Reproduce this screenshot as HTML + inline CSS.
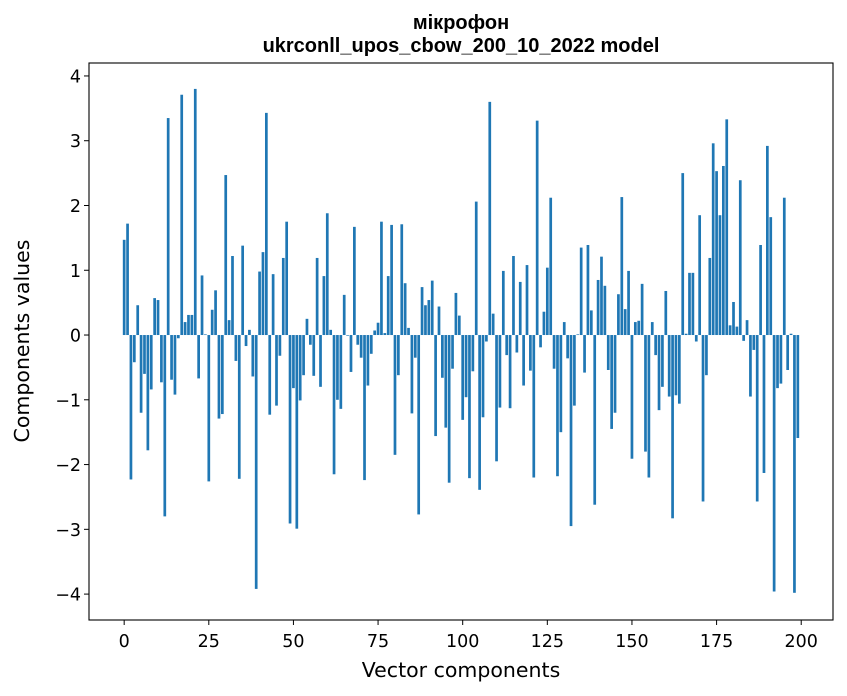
<!DOCTYPE html>
<html><head><meta charset="utf-8"><style>
html,body{margin:0;padding:0;background:#fff;}
svg{display:block;font-family:"DejaVu Sans","Liberation Sans",sans-serif;}
</style></head><body>
<svg id="chart" width="847" height="696" xmlns="http://www.w3.org/2000/svg">
<rect width="847" height="696" fill="#fff"/>
<text x="461" y="29" text-anchor="middle" font-size="20" font-weight="bold" font-family="Liberation Sans, sans-serif">мікрофон</text>
<text x="461" y="52" text-anchor="middle" font-size="20" font-weight="bold" font-family="Liberation Sans, sans-serif">ukrconll_upos_cbow_200_10_2022 model</text>
<g id="bars"></g>
<g id="xticks"></g>
<g id="yticks"></g>
<rect x="89" y="63" width="744" height="557" fill="none" stroke="#000" stroke-width="1.1"/>
<text x="461" y="677" text-anchor="middle" font-size="20.5">Vector components</text>
<text transform="translate(29,341) rotate(-90)" text-anchor="middle" font-size="20.5">Components values</text>
</svg>
<script>
const values = [1.47,1.72,-2.23,-0.42,0.46,-1.20,-0.60,-1.78,-0.84,0.57,
0.54,-0.73,-2.80,3.35,-0.69,-0.92,-0.05,3.71,0.20,0.31,
0.31,3.80,-0.67,0.92,0.01,-2.26,0.39,0.69,-1.29,-1.22,
2.47,0.23,1.22,-0.40,-2.22,1.38,-0.17,0.08,-0.64,-3.92,
0.98,1.28,3.43,-1.23,0.94,-1.09,-0.32,1.19,1.75,-2.91,
-0.82,-2.99,-1.01,-0.62,0.25,-0.15,-0.63,1.19,-0.80,0.91,
1.88,0.08,-2.15,-1.00,-1.14,0.62,-0.01,-0.57,1.67,-0.15,
-0.35,-2.24,-0.78,-0.29,0.07,0.19,1.75,0.03,0.91,1.70,
-1.85,-0.62,1.71,0.80,0.11,-1.21,-0.35,-2.77,0.74,0.46,
0.54,0.84,-1.56,0.44,-0.66,-1.43,-2.28,-0.52,0.65,0.30,
-1.31,-0.96,-2.21,-0.56,2.06,-2.39,-1.27,-0.10,3.60,0.33,
-1.95,-1.12,0.99,-0.31,-1.13,1.22,-0.27,0.82,-0.78,1.08,
-0.55,-2.20,3.31,-0.19,0.36,1.04,2.12,-0.52,-2.18,-1.50,
0.20,-0.36,-2.95,-1.09,0.01,1.35,-0.58,1.39,0.38,-2.62,
0.85,1.21,0.76,-0.54,-1.45,-1.20,0.63,2.13,0.40,0.99,
-1.91,0.20,0.22,0.79,-1.80,-2.20,0.20,-0.31,-1.16,-0.80,
0.68,-0.95,-2.83,-0.93,-1.06,2.50,0.02,0.96,0.96,-0.10,
1.85,-2.57,-0.62,1.19,2.96,2.53,1.85,2.61,3.33,0.15,
0.51,0.13,2.39,-0.09,0.23,-0.95,-0.23,-2.57,1.39,-2.13,
2.92,1.82,-3.96,-0.82,-0.75,2.12,-0.54,0.02,-3.98,-1.59];
const xTicks = [0,25,50,75,100,125,150,175,200];
const yTicks = [-4,-3,-2,-1,0,1,2,3,4];
const yTickLabels = ["\u22124","\u22123","\u22122","\u22121","0","1","2","3","4"];

const NS = "http://www.w3.org/2000/svg";
const X0=89, X1=833, Y0=63, Y1=620;
const xMin=-10.39, xMax=209.39, yMin=-4.40, yMax=4.20;
function xs(v){return X0+(v-xMin)/(xMax-xMin)*(X1-X0);}
function ys(v){return Y1-(v-yMin)/(yMax-yMin)*(Y1-Y0);}
const bars=document.getElementById('bars');
values.forEach((v,i)=>{
  const r=document.createElementNS(NS,'rect');
  const x=xs(i-0.4), w=xs(i+0.4)-x;
  const y=Math.min(ys(v),ys(0)), h=Math.abs(ys(v)-ys(0));
  r.setAttribute('x',x);r.setAttribute('y',y);r.setAttribute('width',w);r.setAttribute('height',Math.max(h,0.3));
  r.setAttribute('fill','#1f77b4');
  
  
  bars.appendChild(r);
});
const xg=document.getElementById('xticks');
xTicks.forEach(t=>{
  const l=document.createElementNS(NS,'line');
  l.setAttribute('x1',xs(t));l.setAttribute('x2',xs(t));l.setAttribute('y1',Y1);l.setAttribute('y2',Y1+5);
  l.setAttribute('stroke','#000');
  
  
  xg.appendChild(l);
  const tx=document.createElementNS(NS,'text');
  tx.setAttribute('x',xs(t));tx.setAttribute('y',Y1+27);tx.setAttribute('text-anchor','middle');tx.setAttribute('font-size','17.5');
  tx.textContent=t;
  
  
  xg.appendChild(tx);
});
const yg=document.getElementById('yticks');
yTicks.forEach((t,i)=>{
  const l=document.createElementNS(NS,'line');
  l.setAttribute('x1',X0-5);l.setAttribute('x2',X0);l.setAttribute('y1',ys(t));l.setAttribute('y2',ys(t));
  l.setAttribute('stroke','#000');
  
  
  yg.appendChild(l);
  const tx=document.createElementNS(NS,'text');
  tx.setAttribute('x',X0-8);tx.setAttribute('y',ys(t)+6.5);tx.setAttribute('text-anchor','end');tx.setAttribute('font-size','17.5');
  tx.textContent=yTickLabels[i];
  
  
  yg.appendChild(tx);
});
</script>
</body></html>
